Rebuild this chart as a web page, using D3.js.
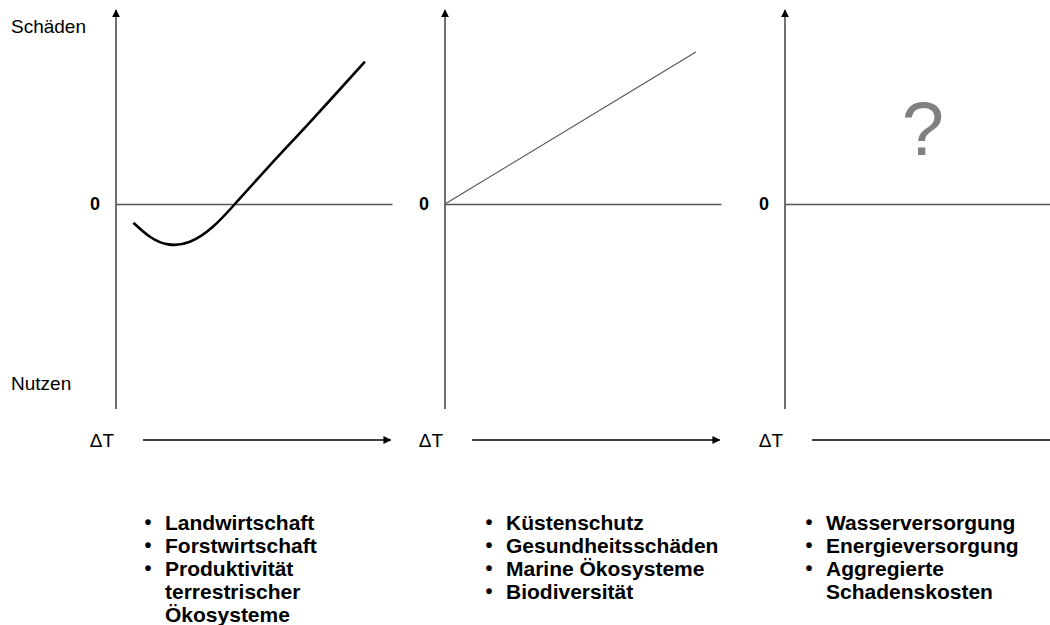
<!DOCTYPE html>
<html><head><meta charset="utf-8">
<script src="https://cdn.jsdelivr.net/npm/d3@7"></script>
<style>body{margin:0;background:#fff}svg{display:block}text{font-family:"Liberation Sans",Arial,sans-serif}</style>
</head><body>
<svg id="c" width="1050" height="625"></svg>
<script>
// ---- data ----
const panels = ["Nutzen-Schaden (nichtlinear)", "Schäden (linear)", "unbekannt"];
const curveX = [6.3, 12.3, 18.9, 26.8, 35.1, 43.1, 54.6, 66.7, 78.6, 90.2];
const curveY = [-9.4, -16.4, -20.2, -18.9, -11.4, 0, 17.6, 35.6, 53.5, 71.2];
const lineX = [0, 90.9];
const lineY = [0, 76];
const yLabels = ["Schäden", "0", "Nutzen"];
const xLabel = "ΔT";
const unknownMark = "?";
const list1 = ["Landwirtschaft", "Forstwirtschaft", "Produktivität", "terrestrischer", "Ökosysteme"];
const list1Bullets = [true, true, true, false, false];
const list2 = ["Küstenschutz", "Gesundheitsschäden", "Marine Ökosysteme", "Biodiversität"];
const list2Bullets = [true, true, true, true];
const list3 = ["Wasserversorgung", "Energieversorgung", "Aggregierte", "Schadenskosten"];
const list3Bullets = [true, true, true, false];

// ---- layout ----
const svg = d3.select("#c");
const origins = [116, 445, 785];
const listX = [165, 506, 826];
const lists = [[list1, list1Bullets], [list2, list2Bullets], [list3, list3Bullets]];
const y = d3.scaleLinear().domain([-100, 100]).range([404, 4]);

const defs = svg.append("defs");
defs.append("marker").attr("id", "ah").attr("viewBox", "0 0 10 10").attr("refX", 9).attr("refY", 5)
  .attr("markerWidth", 8).attr("markerHeight", 8).attr("markerUnits", "userSpaceOnUse").attr("orient", "auto")
  .append("path").attr("d", "M0,0L10,5L0,10Z").attr("fill", "#000");

origins.forEach((ox, i) => {
  const x = d3.scaleLinear().domain([0, 100]).range([ox, ox + 276]);
  const g = svg.append("g");
  // vertical axis
  g.append("line").attr("x1", x(0)).attr("x2", x(0)).attr("y1", y(-102.5)).attr("y2", y(97))
    .attr("stroke", "#222").attr("stroke-width", 1.3).attr("marker-end", "url(#ah)");
  // zero line
  g.append("g").attr("transform", `translate(0,${y(0)})`)
    .call(d3.axisBottom(x).tickValues([]).tickSizeOuter(0))
    .call(s => s.select(".domain").attr("stroke", "#555").attr("stroke-width", 1.6));
  // zero label
  g.append("text").attr("x", x(0) - 16).attr("y", y(0)).attr("text-anchor", "end")
    .attr("dominant-baseline", "central").attr("font-size", 18).attr("font-weight", "bold").text(yLabels[1]);
  // ΔT axis
  const ty = 440;
  g.append("line").attr("x1", x(9.8)).attr("x2", x(99.5)).attr("y1", ty).attr("y2", ty)
    .attr("stroke", "#000").attr("stroke-width", 1.3).attr("marker-end", "url(#ah)");
  g.append("text").attr("x", x(0) - 14).attr("y", ty).attr("text-anchor", "middle")
    .attr("dominant-baseline", "central").attr("font-size", 19).text(xLabel);

  if (i === 0) {
    const pts = curveX.map((v, k) => [v, curveY[k]]);
    g.append("path").datum(pts)
      .attr("d", d3.line().x(d => x(d[0])).y(d => y(d[1])).curve(d3.curveNatural))
      .attr("fill", "none").attr("stroke", "#000").attr("stroke-width", 2.6);
    svg.append("text").attr("x", 11).attr("y", 26).attr("dominant-baseline", "central")
      .attr("font-size", 19).text(yLabels[0]);
    svg.append("text").attr("x", 11).attr("y", 383).attr("dominant-baseline", "central")
      .attr("font-size", 19).text(yLabels[2]);
  } else if (i === 1) {
    const pts = lineX.map((v, k) => [v, lineY[k]]);
    g.append("path").datum(pts)
      .attr("d", d3.line().x(d => x(d[0])).y(d => y(d[1])))
      .attr("fill", "none").attr("stroke", "#555").attr("stroke-width", 1.2);
  } else {
    g.append("text").attr("x", x(50)).attr("y", 155).attr("text-anchor", "middle")
      .attr("font-size", 76).attr("fill", "#808080").text(unknownMark);
  }

  // bullet list
  const [items, bullets] = lists[i];
  items.forEach((t, k) => {
    const yy = 522 + k * 23;
    if (bullets[k]) g.append("text").attr("x", listX[i] - 17).attr("y", yy).attr("text-anchor", "middle")
      .attr("dominant-baseline", "central").attr("font-size", 20).attr("font-weight", "bold").text("•");
    g.append("text").attr("x", listX[i]).attr("y", yy).attr("dominant-baseline", "central")
      .attr("font-size", 21).attr("font-weight", "bold").text(t);
  });
});
</script>
</body></html>
